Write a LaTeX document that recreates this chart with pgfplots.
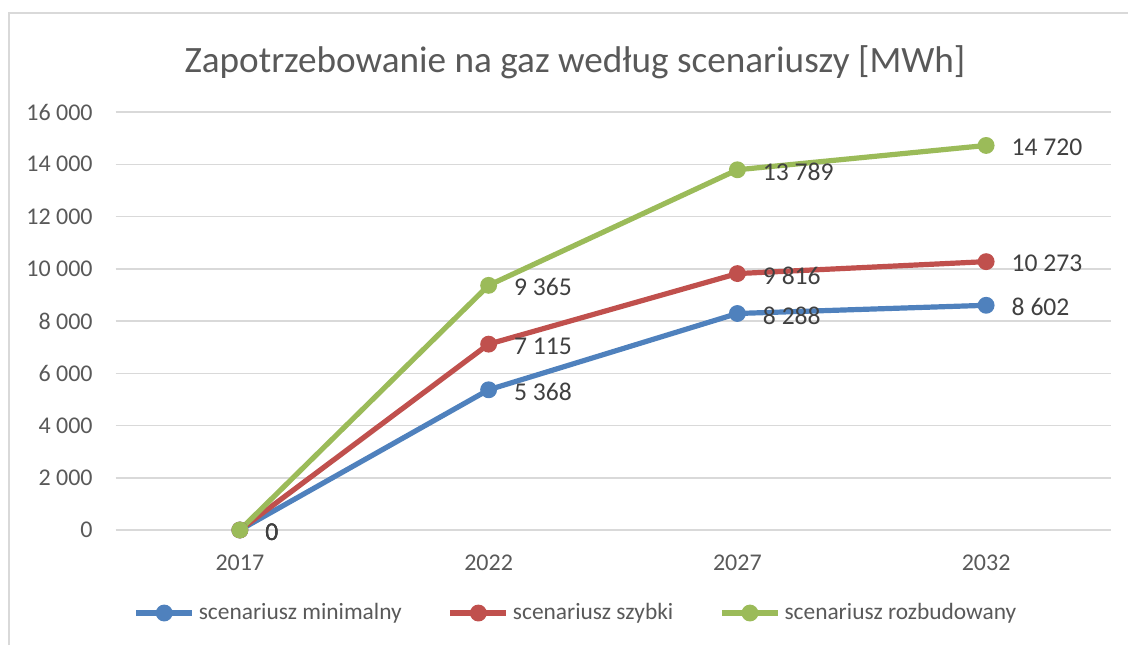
\documentclass[border=0pt]{standalone}
\usepackage{fontspec}
\setmainfont{Carlito}
\usepackage{pgfplots}
\pgfplotsset{compat=1.18}

\definecolor{cblue}{HTML}{4F81BD}
\definecolor{cred}{HTML}{C0504D}
\definecolor{cgreen}{HTML}{9BBB59}
\definecolor{gridgray}{HTML}{D9D9D9}
\definecolor{tickgray}{HTML}{595959}
\definecolor{labelgray}{HTML}{404040}

\begin{document}
\begin{tikzpicture}
% picture is 564pt x 322.5pt (1 px of the reference = 0.5pt)
\useasboundingbox (0,0) rectangle (564pt,-322.5pt);
\draw[gridgray, line width=0.75pt] (4.5pt,-322.5pt) -- (4.5pt,-6.5pt) -- (564pt,-6.5pt);

\node[anchor=base, text=tickgray, font=\fontsize{18.6}{21}\selectfont]
  at (287.5pt,-36pt) {Zapotrzebowanie na gaz według scenariuszy [MWh]};

\begin{axis}[
  at={(57.75pt,-265pt)}, anchor=south west,
  scale only axis,
  width=497.5pt, height=209pt,
  xmin=-0.5, xmax=3.5,
  ymin=0, ymax=16000,
  xtick={0,1,2,3},
  xticklabels={2017,2022,2027,2032},
  ytick={0,2000,...,16000},
  ymajorgrids,
  major grid style={gridgray, line width=0.75pt},
  axis line style={draw=none},
  major tick length=0pt,
  /pgf/number format/.cd, 1000 sep={\ }, assume math mode=true,
  /pgfplots/.cd,
  scaled y ticks=false,
  tick label style={text=tickgray, font=\fontsize{12}{14}\selectfont, inner sep=0pt},
  yticklabel style={anchor=east, xshift=-11.25pt},
  xticklabel style={anchor=north, yshift=-12.5pt},
  clip=false,
  every axis plot/.append style={line width=2.6pt, mark=*, mark size=2.9pt,
    mark options={solid, line width=0.6pt}},
  nodes near coords,
  every node near coord/.append style={anchor=west, inner sep=0pt, xshift=11.5pt, yshift=-1pt,
    text=labelgray, font=\fontsize{12.8}{15}\selectfont},
  legend columns=3,
  legend style={at={(0.4618,-0.1986)}, anchor=center, draw=none, fill=none,
    text=tickgray, font=\fontsize{11.7}{14}\selectfont,
    nodes={inner sep=0pt},
    /tikz/every odd column/.append style={column sep=2pt},
    /tikz/every even column/.append style={column sep=23pt}},
  legend image code/.code={
    \draw[mark repeat=2, mark phase=2, #1] plot coordinates {(0pt,0pt) (14pt,0pt) (28pt,0pt)};
  },
]
\addplot[cblue, mark options={fill=cblue}] coordinates {(0,0) (1,5368) (2,8288) (3,8602)};
\addlegendentry{scenariusz minimalny}
\addplot[cred, mark options={fill=cred}] coordinates {(0,0) (1,7115) (2,9816) (3,10273)};
\addlegendentry{scenariusz szybki}
\addplot[cgreen, mark options={fill=cgreen}] coordinates {(0,0) (1,9365) (2,13789) (3,14720)};
\addlegendentry{scenariusz rozbudowany}
\end{axis}
\end{tikzpicture}
\end{document}
